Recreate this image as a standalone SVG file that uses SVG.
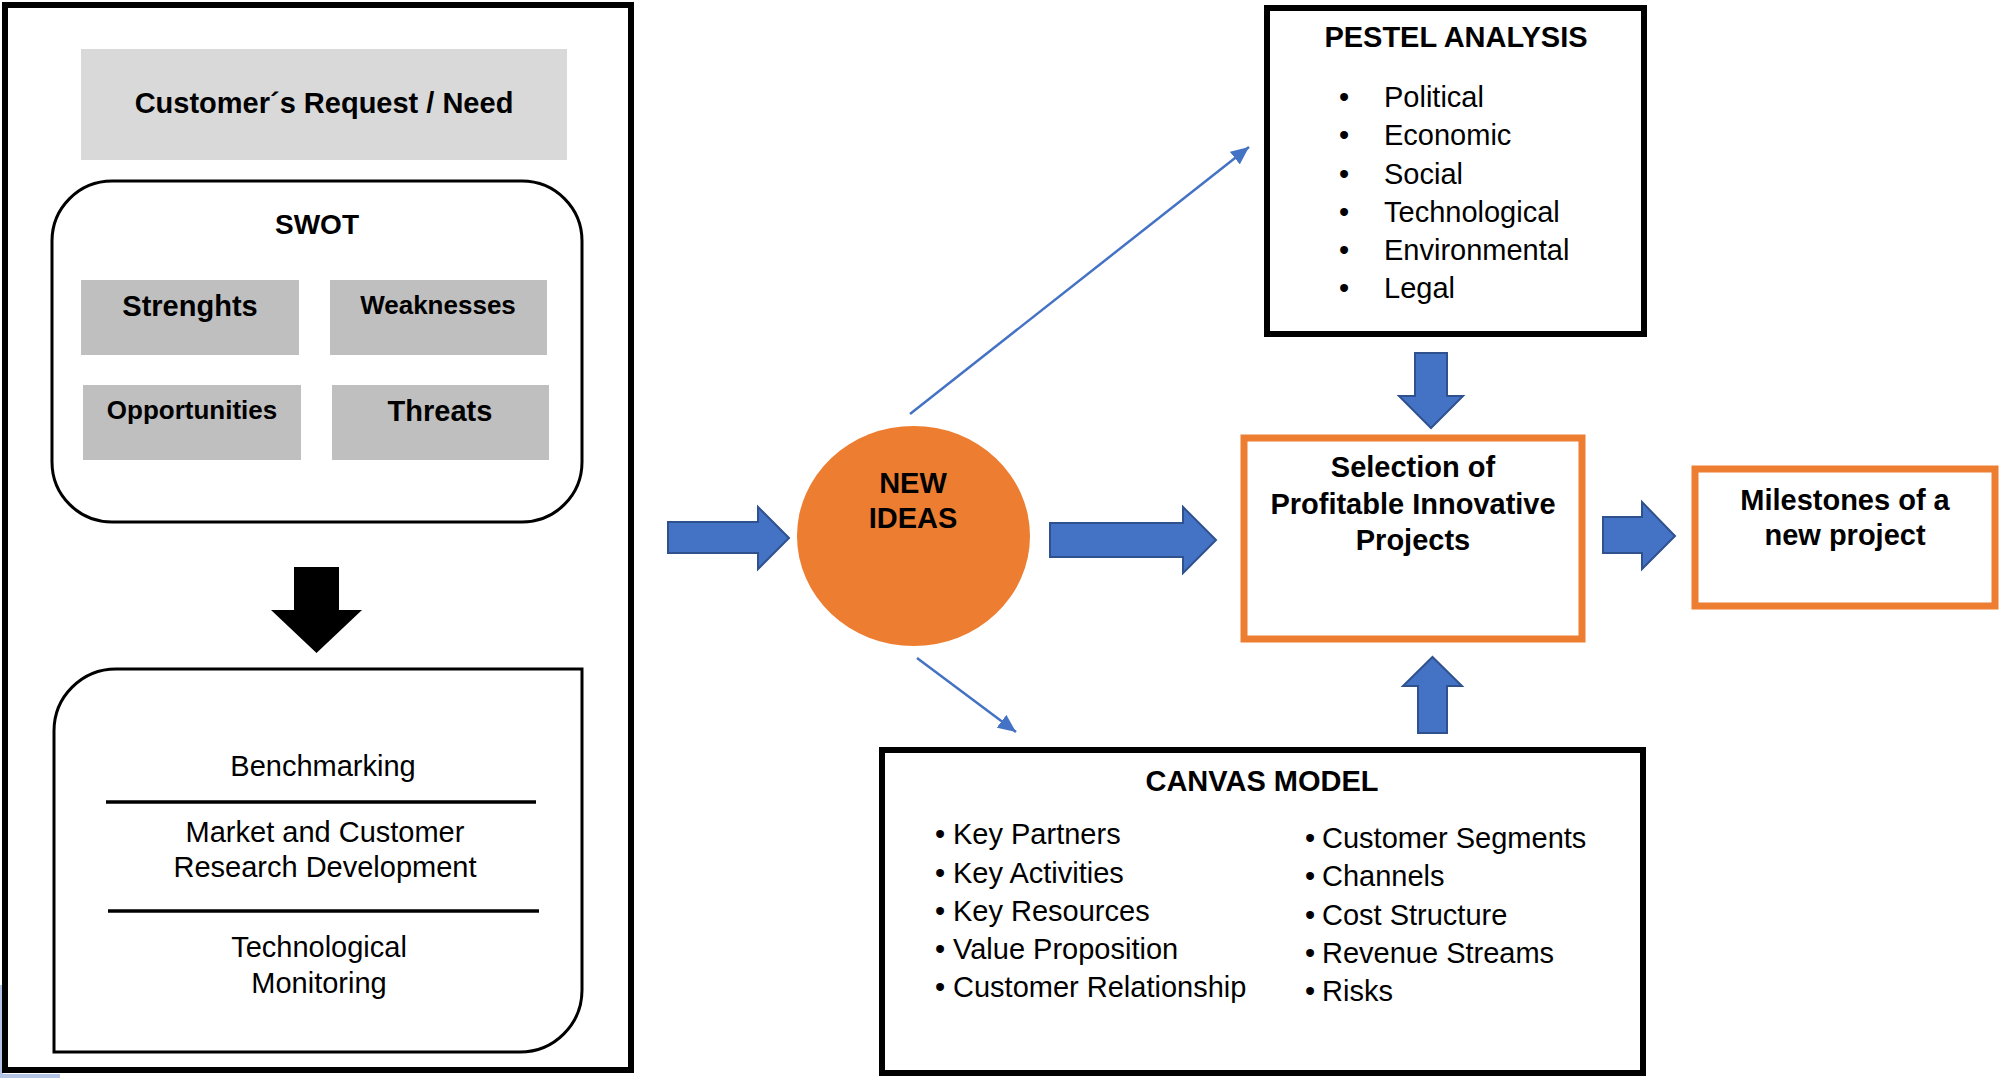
<svg xmlns="http://www.w3.org/2000/svg" width="2007" height="1078" viewBox="0 0 2007 1078">
<style>
.t{font-family:"Liberation Sans",Arial,sans-serif;fill:#000}
.b{font-weight:bold}
.m{text-anchor:middle}
.frame{fill:none;stroke:#000}
.orange{fill:#fff;stroke:#ed7d31;stroke-width:7}
.grey{fill:#bfbfbf}
.blk{fill:#fff;stroke:#000;stroke-width:6}
.barrow{fill:#4472c4;stroke:#2f528f;stroke-width:2}
.thin{stroke:#4472c4;stroke-width:2.5;fill:none;marker-end:url(#ah)}
</style>
<defs>
<marker id="ah" markerUnits="userSpaceOnUse" markerWidth="20" markerHeight="16" refX="18" refY="8" orient="auto">
<path d="M0,0 L18,8 L0,16 Z" fill="#4472c4"/>
</marker>
</defs>
<rect width="2007" height="1078" fill="#fff"/>
<rect x="0" y="985" width="3" height="93" fill="#b4c4e4"/>
<rect x="0" y="1074" width="60" height="4" fill="#b4c4e4"/>

<g id="left-panel">
<rect class="frame" x="5" y="5" width="626" height="1065" stroke-width="6"/>
</g>

<g id="customer-request">
<rect x="81" y="49" width="486" height="111" fill="#d9d9d9"/>
<text class="t b m" x="324" y="113" font-size="29">Customer´s Request / Need</text>
</g>

<g id="swot">
<rect class="frame" x="52" y="181" width="530" height="341" rx="60" ry="60" stroke-width="3"/>
<text class="t b m" x="317" y="234" font-size="28">SWOT</text>
<g id="strengths">
<rect class="grey" x="81" y="280" width="218" height="75"/>
<text class="t b m" x="190" y="316" font-size="29">Strenghts</text>
</g>
<g id="weaknesses">
<rect class="grey" x="330" y="280" width="217" height="75"/>
<text class="t b m" x="438" y="314" font-size="26">Weaknesses</text>
</g>
<g id="opportunities">
<rect class="grey" x="83" y="385" width="218" height="75"/>
<text class="t b m" x="192" y="419" font-size="26">Opportunities</text>
</g>
<g id="threats">
<rect class="grey" x="332" y="385" width="217" height="75"/>
<text class="t b m" x="440" y="421" font-size="29">Threats</text>
</g>
</g>

<g id="research">
<path class="frame" stroke-width="3" d="M54,1052 L54,731 A62,62 0 0 1 116,669 L582,669 L582,990 A62,62 0 0 1 520,1052 Z"/>
<text class="t m" x="323" y="776" font-size="29">Benchmarking</text>
<line x1="106" y1="802" x2="536" y2="802" stroke="#000" stroke-width="3.5"/>
<text class="t m" x="325" y="842" font-size="29">Market and Customer</text>
<text class="t m" x="325" y="877" font-size="29">Research Development</text>
<line x1="108" y1="911" x2="539" y2="911" stroke="#000" stroke-width="3.5"/>
<text class="t m" x="319" y="957" font-size="29">Technological</text>
<text class="t m" x="319" y="993" font-size="29">Monitoring</text>
</g>

<g id="new-ideas">
<ellipse cx="913.5" cy="536" rx="116.5" ry="110" fill="#ed7d31"/>
<text class="t b m" x="913" y="493" font-size="29">NEW</text>
<text class="t b m" x="913" y="528" font-size="29">IDEAS</text>
</g>

<g id="pestel">
<rect class="blk" x="1267" y="8" width="377" height="326"/>
<text class="t b m" x="1456" y="47" font-size="29">PESTEL ANALYSIS</text>
<text class="t" font-size="29">
<tspan x="1339" y="107">•</tspan><tspan x="1384" y="107">Political</tspan>
<tspan x="1339" y="145">•</tspan><tspan x="1384" y="145">Economic</tspan>
<tspan x="1339" y="184">•</tspan><tspan x="1384" y="184">Social</tspan>
<tspan x="1339" y="222">•</tspan><tspan x="1384" y="222">Technological</tspan>
<tspan x="1339" y="260">•</tspan><tspan x="1384" y="260">Environmental</tspan>
<tspan x="1339" y="298">•</tspan><tspan x="1384" y="298">Legal</tspan>
</text>
</g>

<g id="selection">
<rect class="orange" x="1244" y="438" width="338" height="201"/>
<text class="t b m" x="1413" y="477" font-size="29">Selection of</text>
<text class="t b m" x="1413" y="514" font-size="29">Profitable Innovative</text>
<text class="t b m" x="1413" y="550" font-size="29">Projects</text>
</g>

<g id="milestones">
<rect class="orange" x="1695" y="469" width="300" height="137"/>
<text class="t b m" x="1845" y="510" font-size="29">Milestones of a</text>
<text class="t b m" x="1845" y="545" font-size="29">new project</text>
</g>

<g id="canvas">
<rect class="blk" x="882" y="750" width="761" height="323"/>
<text class="t b m" x="1262" y="791" font-size="29">CANVAS MODEL</text>
<text class="t" font-size="29">
<tspan x="935" y="844">•</tspan><tspan x="953" y="844">Key Partners</tspan>
<tspan x="935" y="883">•</tspan><tspan x="953" y="883">Key Activities</tspan>
<tspan x="935" y="921">•</tspan><tspan x="953" y="921">Key Resources</tspan>
<tspan x="935" y="959">•</tspan><tspan x="953" y="959">Value Proposition</tspan>
<tspan x="935" y="997">•</tspan><tspan x="953" y="997">Customer Relationship</tspan>
<tspan x="1305" y="848">•</tspan><tspan x="1322" y="848">Customer Segments</tspan>
<tspan x="1305" y="886">•</tspan><tspan x="1322" y="886">Channels</tspan>
<tspan x="1305" y="925">•</tspan><tspan x="1322" y="925">Cost Structure</tspan>
<tspan x="1305" y="963">•</tspan><tspan x="1322" y="963">Revenue Streams</tspan>
<tspan x="1305" y="1001">•</tspan><tspan x="1322" y="1001">Risks</tspan>
</text>
</g>

<g id="connectors">
<polygon points="294,567 339,567 339,610 362,610 316.5,653 271,610 294,610" fill="#000"/>
<polygon class="barrow" points="668,522 758,522 758,507 789,538 758,569 758,553 668,553"/>
<polygon class="barrow" points="1050,523 1183,523 1183,507 1216,540 1183,573 1183,557 1050,557"/>
<polygon class="barrow" points="1415,353 1447,353 1447,396 1463,396 1431,428 1399,396 1415,396"/>
<polygon class="barrow" points="1432.5,657 1462,686 1447,686 1447,733 1418,733 1418,686 1403,686"/>
<polygon class="barrow" points="1603,517 1642,517 1642,502 1675,536 1642,569 1642,553 1603,553"/>
<line class="thin" x1="910" y1="414" x2="1249" y2="147"/>
<line class="thin" x1="917" y1="658" x2="1016" y2="732"/>
</g>
</svg>
